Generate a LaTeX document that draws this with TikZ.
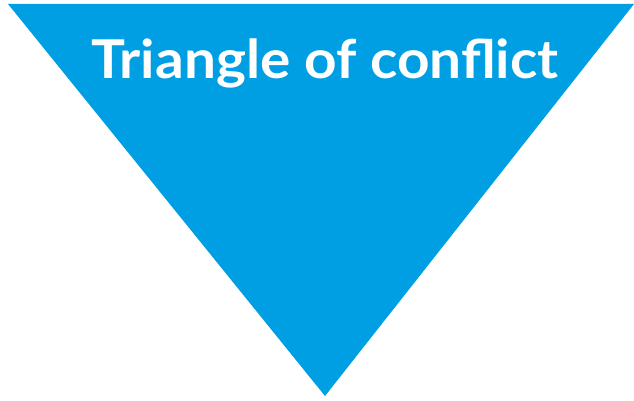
\documentclass[tikz,border=0pt]{standalone}
\usepackage{fontspec}
\setmainfont{Lato}
\definecolor{triblue}{HTML}{009FE3}
\begin{document}
\begin{tikzpicture}[x=1pt,y=1pt]
\useasboundingbox (0,0) rectangle (634,400);
\fill[triblue] (8,396) -- (634,396) -- (325,4) -- cycle;
\node[anchor=base, text=white, font=\fontsize{53.5}{60}\selectfont\bfseries, inner sep=0pt] (title) at (325,322) {\scalebox{1.06}[1]{Triangle of conflict}};
\end{tikzpicture}
\end{document}
